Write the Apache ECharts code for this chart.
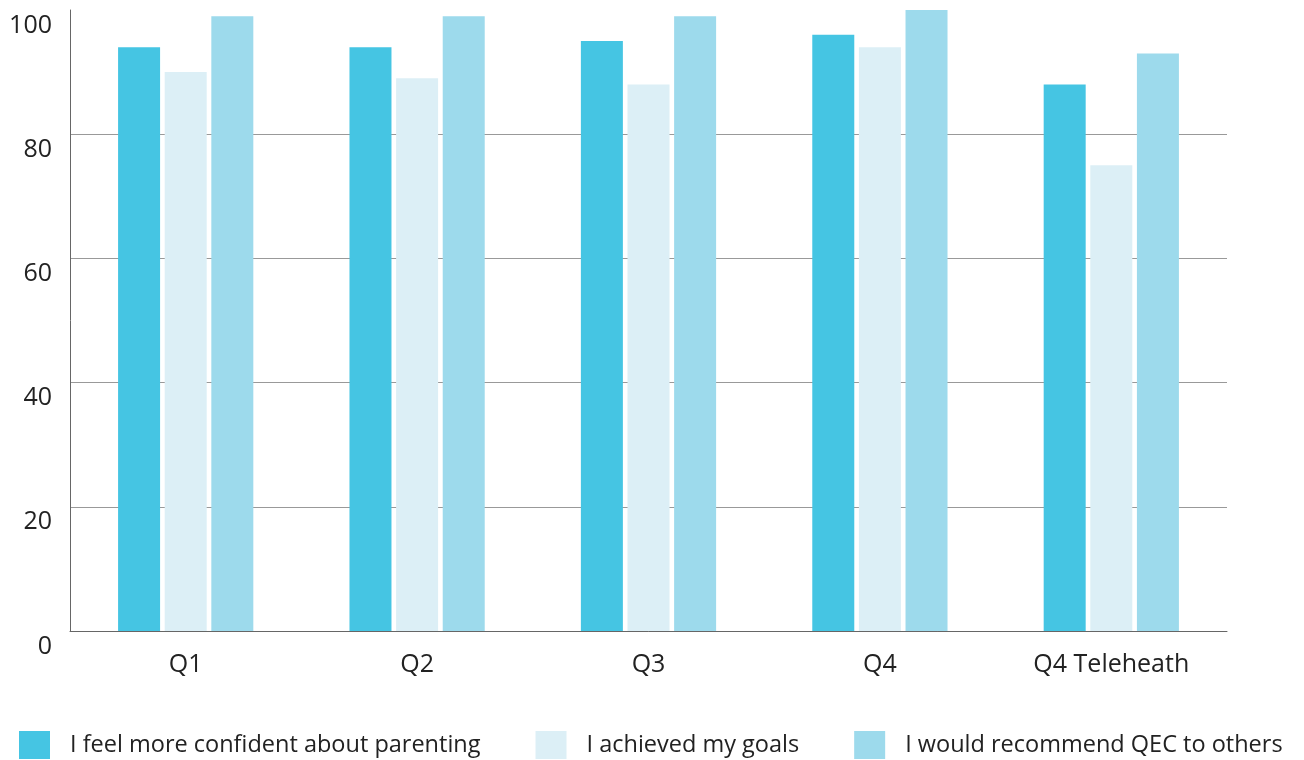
<!DOCTYPE html>
<html>
<head>
<meta charset="utf-8">
<script src="https://cdn.jsdelivr.net/npm/echarts@6/dist/echarts.min.js"></script>
<style>
html,body{margin:0;padding:0;background:#fff;}
#chart{width:1304px;height:760px;}
</style>
</head>
<body>
<div id="chart"></div>
<script>
const categories = ['Q1', 'Q2', 'Q3', 'Q4', 'Q4 Teleheath'];
const seriesNames = ['I feel more confident about parenting', 'I achieved my goals', 'I would recommend QEC to others'];
const confident = [94, 94, 95, 96, 88];
const goals = [90, 89, 88, 94, 75];
const recommend = [99, 99, 99, 100, 93];
const colors = ['#45C5E3', '#DCEFF6', '#9DDAEC'];

const FONT = 'Open Sans';
const chart = echarts.init(document.getElementById('chart'));
const dataSets = [confident, goals, recommend];
chart.setOption({
  animation: false,
  grid: { left: 70, right: 77, top: 10, bottom: 129, containLabel: false },
  legend: {
    left: 14, top: 726,
    itemWidth: 31, itemHeight: 28, itemGap: 55,
    icon: 'rect',
    textStyle: { fontFamily: FONT, fontSize: 23.5, color: '#222', padding: [3, 0, 0, 15] },
    data: seriesNames
  },
  xAxis: {
    type: 'category',
    data: categories,
    axisLine: { show: true, lineStyle: { color: '#666', width: 1 } },
    axisTick: { show: false },
    axisLabel: { fontFamily: FONT, fontSize: 25, color: '#222', margin: 21 }
  },
  yAxis: {
    type: 'value',
    min: 0, max: 100, interval: 20,
    axisLine: { show: true, lineStyle: { color: '#666', width: 1 } },
    axisTick: { show: false },
    axisLabel: { fontFamily: FONT, fontSize: 25, color: '#222', margin: 18, verticalAlign: 'top', padding: [3, 0, 0, 0] },
    splitLine: { show: true, lineStyle: { color: ['#999', '#999', '#999', '#999', '#999', 'rgba(0,0,0,0)'], width: 1 } }
  },
  series: dataSets.map((d, i) => ({
    name: seriesNames[i],
    type: 'bar',
    data: d,
    barWidth: 42,
    barGap: '11%',
    itemStyle: { color: colors[i] }
  }))
});
</script>
</body>
</html>
